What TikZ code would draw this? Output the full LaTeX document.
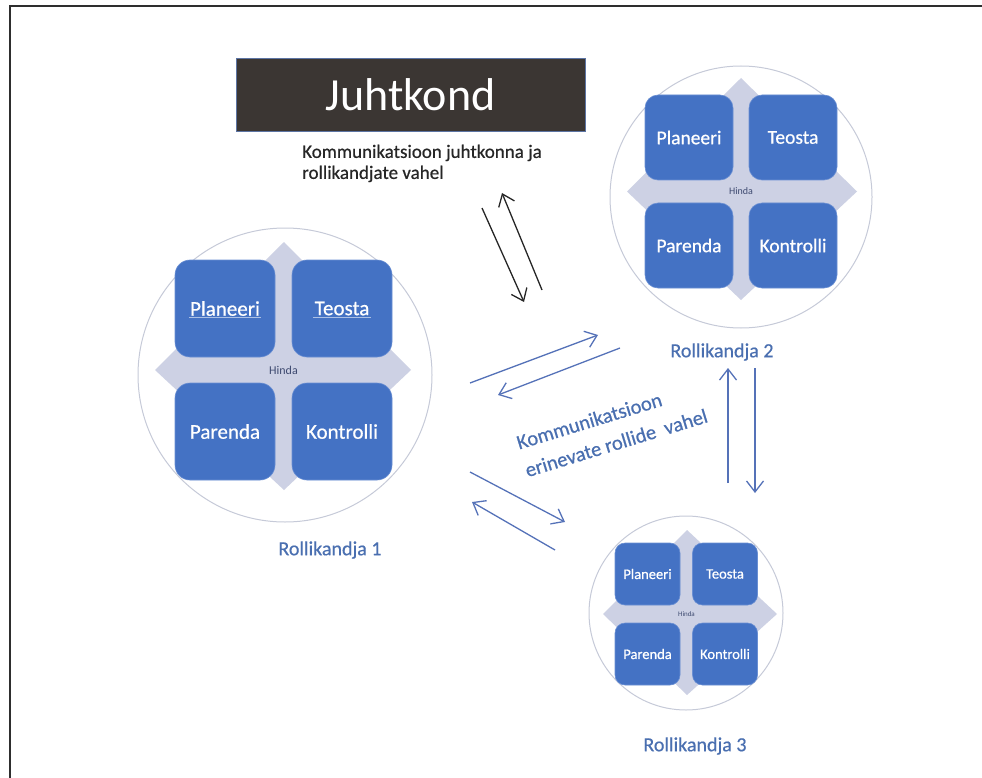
\documentclass[tikz,border=0pt]{standalone}
\usepackage{fontspec}
\setmainfont{Carlito}
\newfontfamily\heavierfont[FakeBold=0.6]{Carlito}
\usetikzlibrary{arrows.meta}
\definecolor{sqblue}{HTML}{4472C4}
\definecolor{sqedge}{HTML}{6A8FD3}
\definecolor{diam}{HTML}{CDD1E4}
\definecolor{ringc}{HTML}{C6CAD8}
\definecolor{lblblue}{HTML}{4A6FB0}
\definecolor{arrblue}{HTML}{5572B8}
\definecolor{hindac}{HTML}{3E4A70}
\definecolor{boxdark}{HTML}{3B3633}
\definecolor{framec}{HTML}{2E2E2E}
\definecolor{textdark}{HTML}{262626}
\begin{document}
\begin{tikzpicture}[x=1pt,y=-1pt,
  ringnode/.style={circle, draw=ringc, line width=1pt, fill=white, inner sep=0pt, minimum size=#1},
  diamondbg/.style={fill=diam},
  sqbase/.style={draw=sqedge, line width=0.6pt, fill=sqblue, text=white, inner sep=0pt},
  sqone/.style={sqbase, rounded corners=15pt, minimum width=100pt, minimum height=97pt, font=\heavierfont\fontsize{21}{25}\selectfont},
  sqtwo/.style={sqbase, rounded corners=13pt, minimum width=88pt, minimum height=85pt, font=\heavierfont\fontsize{19.5}{23}\selectfont},
  sqthree/.style={sqbase, rounded corners=10pt, minimum width=65pt, minimum height=62pt, font=\heavierfont\fontsize{14.5}{17}\selectfont},
  hindalbl/.style={text=hindac, inner sep=0pt},
  rolelbl/.style={text=lblblue, font=\heavierfont\fontsize{20}{24}\selectfont, inner sep=0pt},
  blkarrow/.style={draw=black!85, line width=1.3pt, -{Straight Barb[length=11pt,width=17pt,line width=1.3pt]}},
  bluarrow/.style={draw=arrblue, line width=1.3pt, -{Straight Barb[length=11pt,width=17pt,line width=1.3pt]}},
  spellline/.style={draw=white!55!sqblue, line width=0.5pt}
]
\useasboundingbox (0,0) rectangle (982,778);

% frame
\coordinate (fbl) at (10,778);
\coordinate (ftl) at (10,6);
\coordinate (ftr) at (982,6);
\draw[framec, line width=2pt] (fbl) -- (ftl) -- (ftr);

% Juhtkond
\node[fill=boxdark, draw=sqedge!70!boxdark, line width=0.8pt, minimum width=349pt, minimum height=73pt, inner sep=0pt,
      text=white, font=\fontsize{46}{50}\selectfont] (juht) at (410.5,94.5) {Juhtkond};
\node[anchor=north west, align=left, text=textdark, inner sep=0pt, font=\heavierfont\fontsize{19}{21}\selectfont] (jtxt) at (302,144.5)
  {Kommunikatsioon juhtkonna ja\\rollikandjate vahel};

% ---------- Rollikandja 1 ----------
\node[ringnode=294pt] (c1) at (285,375) {};
\fill[diamondbg] (284,242) -- (411,370) -- (284,490) -- (155,370) -- cycle;
\node[sqone] (p1) at (225,308.5) {Planeeri};
\node[sqone] (t1) at (342,308.5) {Teosta};
\node[sqone] (r1) at (225,431.5) {Parenda};
\node[sqone] (k1) at (342,431.5) {Kontrolli};
\node[hindalbl, font=\fontsize{12}{14}\selectfont] (h1) at (283.5,370) {Hinda};
\draw[spellline] ([xshift=-36pt,yshift=-9pt]p1.center) -- ([xshift=36pt,yshift=-9pt]p1.center);
\draw[spellline] ([xshift=-29pt,yshift=-9pt]t1.center) -- ([xshift=29pt,yshift=-9pt]t1.center);
\node[rolelbl] (l1) at (330,550) {Rollikandja 1};

% ---------- Rollikandja 2 ----------
\node[ringnode=262pt] (c2) at (741,197) {};
\fill[diamondbg] (741,78) -- (857,191.5) -- (741,300) -- (627,191.5) -- cycle;
\node[sqtwo] (p2) at (689,137.5) {Planeeri};
\node[sqtwo] (t2) at (793,137.5) {Teosta};
\node[sqtwo] (r2) at (689,245.5) {Parenda};
\node[sqtwo] (k2) at (793,245.5) {Kontrolli};
\node[hindalbl, font=\fontsize{10}{12}\selectfont] (h2) at (741,191.5) {Hinda};
\node[rolelbl] (l2) at (722,352) {Rollikandja 2};

% ---------- Rollikandja 3 ----------
\node[ringnode=194pt] (c3) at (686,613) {};
\fill[diamondbg] (687,530) -- (777,614) -- (687,695) -- (603,614) -- cycle;
\node[sqthree] (p3) at (647.5,574) {Planeeri};
\node[sqthree] (t3) at (725,574) {Teosta};
\node[sqthree] (r3) at (647.5,654) {Parenda};
\node[sqthree] (k3) at (725,654) {Kontrolli};
\node[hindalbl, font=\fontsize{7}{8}\selectfont] (h3) at (686.5,614) {Hinda};
\node[rolelbl] (l3) at (695,746) {Rollikandja 3};

% ---------- black arrows ----------
\coordinate (ba1s) at (482,208); \coordinate (ba1e) at (524,302);
\coordinate (ba2s) at (542,290); \coordinate (ba2e) at (502,193);
\draw[blkarrow] (ba1s) -- (ba1e);
\draw[blkarrow] (ba2s) -- (ba2e);

% ---------- blue arrows ----------
\coordinate (a1s) at (470,383); \coordinate (a1e) at (598,335);
\coordinate (a2s) at (620,348); \coordinate (a2e) at (498,395);
\coordinate (v1s) at (728,483); \coordinate (v1e) at (728,368);
\coordinate (v2s) at (755,368); \coordinate (v2e) at (755,493);
\coordinate (d1s) at (470,472); \coordinate (d1e) at (565,522);
\coordinate (d2s) at (555,550); \coordinate (d2e) at (472,502);
\draw[bluarrow] (a1s) -- (a1e);
\draw[bluarrow] (a2s) -- (a2e);
\draw[bluarrow] (v1s) -- (v1e);
\draw[bluarrow] (v2s) -- (v2e);
\draw[bluarrow] (d1s) -- (d1e);
\draw[bluarrow] (d2s) -- (d2e);

% rotated label
\node[rotate=17, align=left, text=lblblue, inner sep=0pt, font=\heavierfont\fontsize{20.5}{29}\selectfont] (ktxt) at (612,429)
  {Kommunikatsioon\\erinevate rollide\ \ vahel};
\end{tikzpicture}
\end{document}
